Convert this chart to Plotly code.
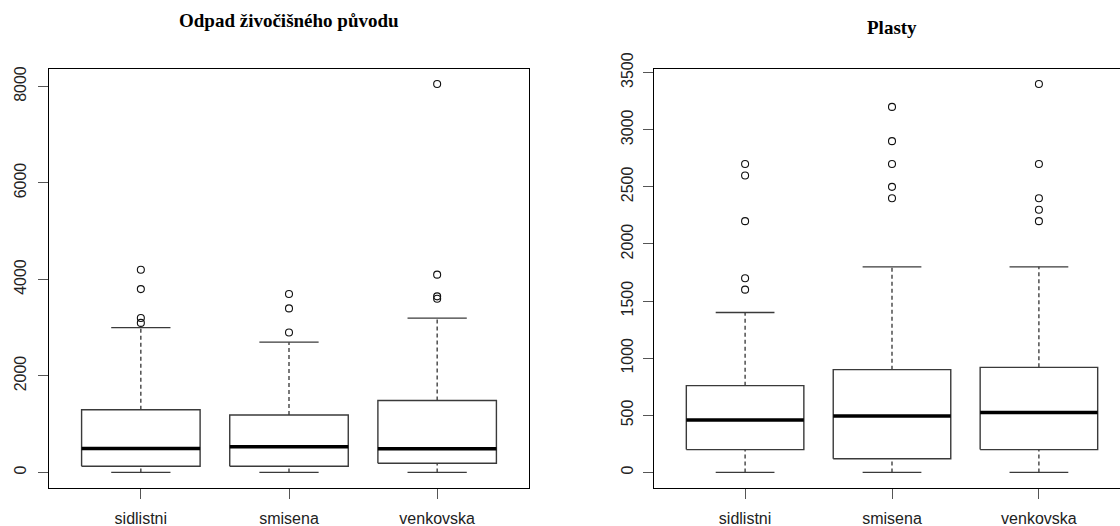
import plotly.graph_objects as go

W, H = 1120, 526

groups = ["sidlistni", "smisena", "venkovska"]

# Odpad živočišného původu: five-number summaries and outliers per group
animal_low = [0, 0, 0]
animal_q1 = [130, 130, 190]
animal_med = [495, 535, 490]
animal_q3 = [1300, 1190, 1490]
animal_high = [3000, 2700, 3200]
animal_out = [[4200, 3800, 3200, 3100], [3700, 3400, 2900], [8050, 4100, 3650, 3600]]

# Plasty
plast_low = [0, 0, 0]
plast_q1 = [200, 120, 200]
plast_med = [460, 495, 525]
plast_q3 = [760, 900, 920]
plast_high = [1400, 1800, 1800]
plast_out = [[2700, 2600, 2200, 1700, 1600],
             [3200, 2900, 2700, 2500, 2400],
             [3400, 2700, 2400, 2300, 2200]]

BOX_HALF = 0.4     # boxwex 0.8
CAP_HALF = 0.2     # staplewex 0.5
EDGE = "#3a3a3a"

fig = go.Figure()


def add_boxes(xa, ya, low, q1, med, q3, high, outs):
    bx, by, mx, my, wx, wy, cx, cy, ox, oy = [], [], [], [], [], [], [], [], [], []
    for i in range(len(groups)):
        c = i + 1
        bx += [c - BOX_HALF, c + BOX_HALF, c + BOX_HALF, c - BOX_HALF, c - BOX_HALF, None]
        by += [q1[i], q1[i], q3[i], q3[i], q1[i], None]
        mx += [c - BOX_HALF, c + BOX_HALF, None]
        my += [med[i], med[i], None]
        wx += [c, c, None, c, c, None]
        wy += [q3[i], high[i], None, low[i], q1[i], None]
        cx += [c - CAP_HALF, c + CAP_HALF, None, c - CAP_HALF, c + CAP_HALF, None]
        cy += [high[i], high[i], None, low[i], low[i], None]
        ox += [c] * len(outs[i])
        oy += outs[i]
    common = dict(xaxis=xa, yaxis=ya, showlegend=False, hoverinfo="skip")
    fig.add_trace(go.Scatter(x=wx, y=wy, mode="lines",
                             line=dict(color="#222", width=1.2, dash="4px,3px"), **common))
    fig.add_trace(go.Scatter(x=cx, y=cy, mode="lines",
                             line=dict(color=EDGE, width=1.3), **common))
    fig.add_trace(go.Scatter(x=bx, y=by, mode="lines", fill="toself", fillcolor="white",
                             line=dict(color=EDGE, width=1.4), **common))
    fig.add_trace(go.Scatter(x=mx, y=my, mode="lines",
                             line=dict(color="black", width=3.5), **common))
    fig.add_trace(go.Scatter(x=ox, y=oy, mode="markers",
                             marker=dict(symbol="circle-open", size=7, color="#111",
                                         line=dict(width=1.1)), **common))


add_boxes("x", "y", animal_low, animal_q1, animal_med, animal_q3, animal_high, animal_out)
add_boxes("x2", "y2", plast_low, plast_q1, plast_med, plast_q3, plast_high, plast_out)


def yrange(*series):
    vals = []
    for s in series:
        for v in s:
            vals += v if isinstance(v, list) else [v]
    lo, hi = min(vals), max(vals)
    pad = 0.04 * (hi - lo)
    return [lo - pad, hi + pad]


tick_font = dict(family="Liberation Sans, Arial, sans-serif", size=16, color="#222")
axis_common = dict(showgrid=False, zeroline=False, showline=True, linecolor="black",
                   linewidth=1, ticks="outside", tickcolor="#555", tickwidth=1,
                   tickfont=tick_font, ticklen=10, automargin=False)

# panel geometry in pixels
top_px, bot_px = 68.5, 488
l1, r1 = 49, 529
l2, r2 = 654, 1120
px_per_unit2 = (1130 - l2) / 3.24

fig.update_layout(
    width=W, height=H, margin=dict(l=0, r=0, t=0, b=0),
    paper_bgcolor="white", plot_bgcolor="white",
    xaxis=dict(domain=[l1 / W, r1 / W], range=[0.38, 3.62], tickvals=[1, 2, 3],
               ticktext=groups, ticklabelstandoff=6, mirror=True, anchor="y",
               **axis_common),
    yaxis=dict(domain=[1 - bot_px / H, 1 - top_px / H],
               range=yrange(animal_low, animal_high, animal_out),
               tickvals=[0, 2000, 4000, 6000, 8000], tickangle=-90,
               ticklabelstandoff=6, mirror=True, anchor="x", **axis_common),
    xaxis2=dict(domain=[l2 / W, r2 / W], range=[0.38, 0.38 + (r2 - l2) / px_per_unit2],
                tickvals=[1, 2, 3], ticktext=groups, ticklabelstandoff=6, mirror=True,
                anchor="y2", **axis_common),
    yaxis2=dict(domain=[1 - bot_px / H, 1 - top_px / H],
                range=yrange(plast_low, plast_high, plast_out),
                tickvals=[0, 500, 1000, 1500, 2000, 2500, 3000, 3500], tickangle=-90,
                ticklabelstandoff=4, mirror=False, anchor="x2", **axis_common),
)

title_font = dict(family="Liberation Serif, Times New Roman, serif", size=19, color="black")
fig.add_annotation(text="<b>Odpad živočišného původu</b>", xref="paper", yref="paper",
                   x=(l1 + r1) / 2 / W, y=1 - 21 / H, showarrow=False,
                   xanchor="center", yanchor="middle", font=title_font)
fig.add_annotation(text="<b>Plasty</b>", xref="paper", yref="paper",
                   x=(l2 + 1130) / 2 / W, y=1 - 27 / H, showarrow=False,
                   xanchor="center", yanchor="middle", font=title_font)

fig.write_html("out.html")
